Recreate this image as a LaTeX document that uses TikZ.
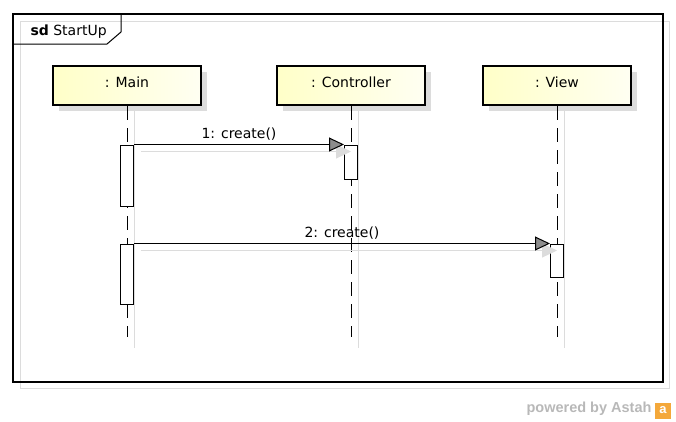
\documentclass[tikz,border=0pt]{standalone}
\usepackage{fontspec}
\setmainfont{DejaVu Sans}
\newfontfamily\astahfont{Liberation Sans}
\usetikzlibrary{arrows.meta,shadows}
\definecolor{HeadLeft}{HTML}{FFFFC8}
\definecolor{HeadRight}{HTML}{FFFFF2}
\definecolor{ShadowGray}{HTML}{DCDCDC}
\definecolor{ArrowGray}{HTML}{8C8C8C}
\definecolor{AstahOrange}{HTML}{F4A83A}

\begin{document}
\begin{tikzpicture}[x=1pt,y=-1pt,
    font=\fontsize{14}{16}\selectfont,
    head/.style={draw,line width=2.7pt,left color=HeadLeft,right color=HeadRight,
      minimum width=148pt,minimum height=39pt,inner sep=0pt,text height=12pt,text depth=8pt,
      drop shadow={shadow xshift=6pt,shadow yshift=-6pt,fill=ShadowGray,opacity=1}},
    life/.style={line width=1pt,dash pattern=on 14pt off 8pt},
    lshadow/.style={ShadowGray,line width=1pt},
    act/.style={draw,fill=white,line width=1pt,minimum width=13pt,inner sep=0pt},
    msg/.style={line width=1pt,-{Triangle[length=15pt,width=14pt,fill=ArrowGray]}},
    msgshadow/.style={ShadowGray,line width=1pt,-{Triangle[length=15pt,width=14pt,fill=ShadowGray]}},
  ]
  \useasboundingbox (0,0) rectangle (676,421);
  % frame
  \draw[lshadow] (20,21) rectangle (669,388);
  \draw[line width=1.2pt] (13,14) rectangle (663,382);
  \draw[line width=1pt] (13,44) -- (107,44) -- (121,32) -- (121,14);
  \node[anchor=base west] (title) at (27,35) {\textbf{sd} StartUp};
  % lifelines
  \foreach \n/\t/\x in {main/Main/127,ctrl/Controller/351,view/View/557} {
    \draw[lshadow] (\x+7,111) -- (\x+7,348);
    \node[head] (\n) at (\x,85.5) {: \t};
    \coordinate (\n end) at (\x,337);
    \draw[life] (\n) -- (\n end);
  }
  % activations
  \node[act,minimum height=61pt] (a1) at (127,175.5) {};
  \node[act,minimum height=60pt] (a2) at (127,274) {};
  \node[act,minimum height=34pt] (c1) at (351,162) {};
  \node[act,minimum height=33pt] (v1) at (557,260.5) {};
  % messages
  \draw[msgshadow] ([shift={(7,7)}]a1.north east) -- ([shift={(7,7)}]c1.north west);
  \draw[msgshadow] ([shift={(7,7)}]a2.north east) -- ([shift={(7,7)}]v1.north west);
  \draw[msg] (a1.north east) -- node[midway,anchor=base,yshift=6pt] (m1) {1: create()} (c1.north west);
  \draw[msg] (a2.north east) -- node[midway,anchor=base,yshift=6pt] (m2) {2: create()} (v1.north west);
  % footer
  \node[anchor=base east,text=black!28,font=\astahfont\bfseries\fontsize{14.5}{16}\selectfont] (powered) at (655,412) {powered by Astah};
  \node[fill=AstahOrange,minimum size=16pt,inner sep=0pt,text=white,font=\astahfont\bfseries\fontsize{13}{13}\selectfont] (logo) at (663,410.5) {a};
\end{tikzpicture}
\end{document}
